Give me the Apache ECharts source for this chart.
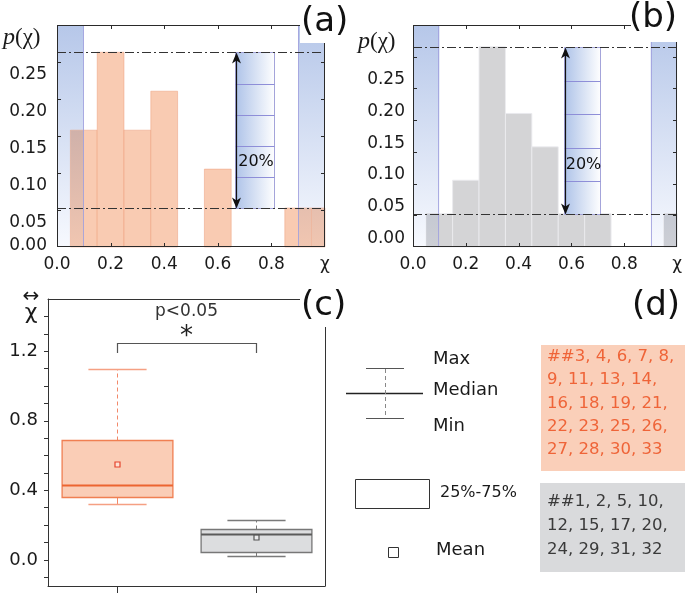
<!DOCTYPE html>
<html><head><meta charset="utf-8">
<script src="https://cdn.jsdelivr.net/npm/echarts@6/dist/echarts.min.js"></script>
<style>html,body{margin:0;padding:0;background:#fff}#c{width:685px;height:593px}</style>
</head><body><div id="c"></div>
<script>
// ---------------- data ----------------
const binCenters = [0.1, 0.2, 0.3, 0.4, 0.5, 0.6, 0.7, 0.8, 0.9, 1.0];
const countsA = [3, 5, 3, 4, 0, 2, 0, 0, 1, 1];   // panel (a), 19 samples
const countsB = [1, 2, 6, 4, 3, 1, 1, 0, 0, 1];   // panel (b), 19 samples
const histXTicks = [0, 0.2, 0.4, 0.6, 0.8, 1.0];
const histYTicksA = [0.05, 0.10, 0.15, 0.20, 0.25];
const histYTicksB = [0.00, 0.05, 0.10, 0.15, 0.20, 0.25];
const histYTickMarksA = [0, 0.05, 0.10, 0.15, 0.20, 0.25, 0.30];
const histYTickMarksB = [0, 0.05, 0.10, 0.15, 0.20, 0.25, 0.30, 0.35];
const boxGroups = [0, 1];
const boxA = [0.32, 0.36, 0.43, 0.69, 1.10, 0.55];     // min, q1, median, q3, max, mean
const boxB = [0.025, 0.045, 0.15, 0.18, 0.23, 0.13];
const boxYLabels = [0, 0.4, 0.8, 1.2];
const boxYTicks = [-0.1,0,0.1,0.2,0.3,0.4,0.5,0.6,0.7,0.8,0.9,1.0,1.1,1.2,1.3,1.4];
const groupAIds = [3,4,6,7,8,9,11,13,14,16,18,19,21,22,23,25,26,27,28,30,33];
const groupBIds = [1,2,5,10,12,15,17,20,24,29,31,32];
const sigText = 'p<0.05';
const starText = '*';
const legendTexts = ['Max', 'Median', 'Min', '25%-75%', 'Mean'];
const panelLabels = ['(a)', '(b)', '(c)', '(d)'];

// ---------------- layout / annotation config ----------------
const FONT = 'DejaVu Sans';
const FONTQ = '"DejaVu Sans"';
const GA = {left: 57, top: 25, width: 268, height: 222};
const GB = {left: 413, top: 25, width: 269, height: 222};
const GC = {left: 48, top: 299, width: 277, height: 287};
const binWidth = 0.1;
const bandRanges = [[0, 0.1], [0.9, 1.0]];
const bandTop = [182, 199, 233], bandBottom = [247, 249, 254];
const rulerA = {x: [0.665, 0.808], divisions: 5, zeroLabel: true};
const rulerB = {x: [0.57, 0.707], divisions: 5, zeroLabel: false};
const sig = {legY: 1.19, barY: 1.247, starY: 1.305, textY: 1.43};
const styleA = {rgb: [249, 203, 178], stroke: 'rgba(236,150,115,0.45)'};
const styleB = {rgb: [212, 212, 214], stroke: 'rgba(235,235,238,0.9)'};
const boxStyles = [
  {fill: '#FACDB6', border: '#F07F52', median: '#EC6530', whisker: '#F2896A', cap: '#F5A083', mean: '#E5432C'},
  {fill: '#DCDDDF', border: '#777', median: '#5A5A5A', whisker: '#7A7A7A', cap: '#7A7A7A', mean: '#555'}
];
const FRAME = '#2a2a2a';
const TOP = 1;   // overlay layer (zlevel) for frames, ticks and panel decorations

const N_A = countsA.reduce((a, b) => a + b, 0);
const N_B = countsB.reduce((a, b) => a + b, 0);
const probsA = countsA.map(c => c / N_A);
const probsB = countsB.map(c => c / N_B);

const rgb = c => 'rgb(' + c.map(Math.round).join(',') + ')';
const mult = (a, b) => a.map((v, i) => v * b[i] / 255);

function histRender(st) {
  return function (params, api) {
    const x = api.value(0), y = api.value(1);
    if (!y) return;
    const p0 = api.coord([x - binWidth / 2, y]);
    const p1 = api.coord([x + binWidth / 2, 0]);
    const cs = params.coordSys;
    const r = echarts.graphic.clipRectByRect(
      {x: p0[0], y: p0[1], width: p1[0] - p0[0], height: p1[1] - p0[1]},
      {x: cs.x, y: cs.y, width: cs.width, height: cs.height});
    if (!r) return;
    const ch = [{type: 'rect', shape: r, style: {fill: rgb(st.rgb), stroke: st.stroke, lineWidth: 1}}];
    bandRanges.forEach(bd => {
      const a = api.coord([bd[0], 0])[0], b = api.coord([bd[1], 0])[0];
      const x0 = Math.max(a, r.x), x1 = Math.min(b, r.x + r.width);
      if (x1 > x0) {
        ch.push({type: 'rect', shape: {x: x0, y: r.y, width: x1 - x0, height: r.height},
          style: {fill: new echarts.graphic.LinearGradient(0, cs.y, 0, cs.y + cs.height, [
            {offset: 0, color: rgb(mult(st.rgb, bandTop))}, {offset: 1, color: rgb(mult(st.rgb, bandBottom))}], true)}});
      }
    });
    return {type: 'group', children: ch};
  };
}

function bandRender(params, api) {
  const cs = params.coordSys;
  const a = api.coord([api.value(0), 0])[0], b = api.coord([api.value(1), 0])[0];
  return {type: 'rect', shape: {x: a, y: cs.y, width: b - a, height: cs.height},
     style: {fill: new echarts.graphic.LinearGradient(0, 0, 0, 1, [
       {offset: 0, color: rgb(bandTop)}, {offset: 1, color: rgb(bandBottom)}])}};
}
function bandEdgeRender(params, api) {
  const cs = params.coordSys;
  const a = Math.round(api.coord([api.value(0), 0])[0]), b = Math.round(api.coord([api.value(1), 0])[0]) - 1;
  const c = 'rgba(160,160,222,0.85)';
  return {type: 'group', children: [
    {type: 'rect', shape: {x: a, y: cs.y, width: 1, height: cs.height}, style: {fill: c}},
    {type: 'rect', shape: {x: b, y: cs.y, width: 1, height: cs.height}, style: {fill: c}}
  ]};
}

// frame + inward tick marks of a histogram panel, as thin filled rects
function frameRender(xt, yt) {
  return function (params, api) {
    const cs = params.coordSys;
    const L = Math.round(cs.x), T = Math.round(cs.y), R = Math.round(cs.x + cs.width), B = Math.round(cs.y + cs.height);
    const mk = (x, y, w, h) => ({type: 'rect', shape: {x, y, width: w, height: h}, style: {fill: FRAME}});
    const ch = [mk(L, T, R - L, 1), mk(L, B - 1, R - L, 1), mk(L, T, 1, B - T), mk(R - 1, T, 1, B - T)];
    xt.forEach(v => {
      const px = Math.min(R - 1, Math.round(api.coord([v, 0])[0]));
      ch.push(mk(px, B - 4, 1, 4));
      ch.push(mk(px, T, 1, 4));
    });
    yt.forEach(v => {
      const py = Math.min(B - 1, Math.round(api.coord([0, v])[1]));
      ch.push(mk(L, py, 4, 1));
      ch.push(mk(R - 4, py, 4, 1));
    });
    return {type: 'group', children: ch};
  };
}

function annotRender(probs, ruler) {
  const hi = Math.max(...probs);
  const lo = Math.min(...probs.filter(p => p > 0));
  return function (params, api) {
    const yHi = Math.round(api.coord([0, hi])[1]) + 0.5;
    const yLo = Math.round(api.coord([0, lo])[1]) + 0.5;
    const xL = api.coord([0, 0])[0], xR = api.coord([1, 0])[0];
    const rx0 = Math.round(api.coord([ruler.x[0], 0])[0]) + 0.5;
    const rx1 = Math.round(api.coord([ruler.x[1], 0])[0]) + 0.5;
    const n = ruler.divisions, step = (yLo - yHi) / n;
    const ch = [];
    ch.push({type: 'rect', shape: {x: rx0, y: yHi, width: rx1 - rx0, height: yLo - yHi},
      style: {fill: new echarts.graphic.LinearGradient(0, 0, 1, 0, [
        {offset: 0, color: '#ADC2E8'}, {offset: 1, color: '#FFFFFF'}]), stroke: '#A4A4DA', lineWidth: 1}});
    for (let i = 1; i < n; i++) {
      const yy = Math.round(yHi + i * step) + 0.5;
      ch.push({type: 'line', shape: {x1: rx0, y1: yy, x2: rx1, y2: yy}, style: {stroke: '#8E8ED8', lineWidth: 1}});
    }
    ch.push({type: 'text', x: (rx0 + rx1) / 2 + 1, y: yHi + (n - 1.5) * step,
      style: {text: Math.round(100 / n) + '%', font: '16px ' + FONTQ, fill: '#111', align: 'center', verticalAlign: 'middle', textAlign: 'center', textVerticalAlign: 'middle'}});
    [yHi, yLo].forEach(yy => ch.push({type: 'line', shape: {x1: xL, y1: yy, x2: xR, y2: yy},
      style: {stroke: '#333', lineWidth: 1, lineDash: [9, 3, 2, 3]}}));
    const ax = rx0 + 1;
    ch.push({type: 'line', shape: {x1: ax, y1: yHi + 6, x2: ax, y2: yLo - 6}, style: {stroke: '#111', lineWidth: 1.2}});
    ch.push({type: 'polygon', shape: {points: [[ax, yHi], [ax - 4.5, yHi + 11], [ax, yHi + 8], [ax + 4.5, yHi + 11]]}, style: {fill: '#111'}});
    ch.push({type: 'polygon', shape: {points: [[ax, yLo], [ax - 4.5, yLo - 11], [ax, yLo - 8], [ax + 4.5, yLo - 11]]}, style: {fill: '#111'}});
    if (ruler.zeroLabel) {
      const z = api.coord([0, 0]);
      ch.push({type: 'text', x: z[0] - 10, y: z[1] - 1,
        style: {text: (0).toFixed(2), font: '17px ' + FONTQ, fill: '#1a1a1a', align: 'right', verticalAlign: 'middle', textAlign: 'right', textVerticalAlign: 'middle'}});
    }
    return {type: 'group', children: ch};
  };
}

function boxRender(params, api) {
  const x = api.value(0);
  const mn = api.value(1), q1 = api.value(2), md = api.value(3), q3 = api.value(4), mx = api.value(5), mean = api.value(6);
  const band = api.size([1, 0])[0];
  const cx = Math.round(api.coord([x, 0])[0]) + 0.5;
  const Y = v => Math.round(api.coord([x, v])[1]) + 0.5;
  const hw = band * 0.40, cw = band * 0.21;
  const st = boxStyles[params.dataIndex];
  const ch = [
    {type: 'line', shape: {x1: cx, y1: Y(q3), x2: cx, y2: Y(mx)}, style: {stroke: st.whisker, lineWidth: 1, lineDash: [4, 3]}},
    {type: 'line', shape: {x1: cx, y1: Y(q1), x2: cx, y2: Y(mn)}, style: {stroke: st.whisker, lineWidth: 1}},
    {type: 'line', shape: {x1: cx - cw, y1: Y(mx), x2: cx + cw, y2: Y(mx)}, style: {stroke: st.cap, lineWidth: 1.3}},
    {type: 'line', shape: {x1: cx - cw, y1: Y(mn), x2: cx + cw, y2: Y(mn)}, style: {stroke: st.cap, lineWidth: 1.3}},
    {type: 'rect', shape: {x: cx - hw, y: Y(q3), width: 2 * hw, height: Y(q1) - Y(q3)}, style: {fill: st.fill, stroke: st.border, lineWidth: 1.3}},
    {type: 'line', shape: {x1: cx - hw, y1: Y(md), x2: cx + hw, y2: Y(md)}, style: {stroke: st.median, lineWidth: 2.2}},
    {type: 'rect', shape: {x: cx - 2.5, y: Y(mean) - 2.5, width: 5, height: 5}, style: {fill: 'rgba(255,255,255,0.4)', stroke: st.mean, lineWidth: 1.2}}
  ];
  return {type: 'group', children: ch};
}

function sigRender(params, api) {
  const a = api.coord([boxGroups[0], sig.barY]), b = api.coord([boxGroups[1], sig.barY]);
  const leg = api.coord([0, sig.legY])[1];
  const mid = api.coord([(boxGroups[0] + boxGroups[1]) / 2, sig.starY]);
  const pt = api.coord([(boxGroups[0] + boxGroups[1]) / 2, sig.textY]);
  const ya = Math.round(a[1]) + 0.5;
  return {type: 'group', children: [
    {type: 'polyline', shape: {points: [[Math.round(a[0]) + 0.5, leg], [Math.round(a[0]) + 0.5, ya], [Math.round(b[0]) + 0.5, ya], [Math.round(b[0]) + 0.5, leg]]},
     style: {stroke: '#555', lineWidth: 1.2, fill: null}},
    {type: 'text', x: mid[0], y: mid[1] + 4, style: {text: starText, font: '26px ' + FONTQ, fill: '#222', align: 'center', verticalAlign: 'middle', textAlign: 'center', textVerticalAlign: 'middle'}},
    {type: 'text', x: pt[0], y: pt[1], style: {text: sigText, font: '17px ' + FONTQ, fill: '#333', align: 'center', verticalAlign: 'middle', textAlign: 'center', textVerticalAlign: 'middle'}}
  ]};
}

// ---- axes helpers
const axLine = () => ({show: true, onZero: false, lineStyle: {color: '#333', width: 1}});
function histX(grid) {
  return {type: 'value', gridIndex: grid, position: 'bottom', min: 0, max: 1, interval: 0.2,
    axisLine: {show: false, onZero: false}, splitLine: {show: false}, axisTick: {show: false},
    axisLabel: {show: true, margin: 9, color: '#1a1a1a', fontSize: 17, fontFamily: FONT,
      formatter: v => (Math.abs(v - 1) < 1e-6 ? 'χ' : (histXTicks.some(t => Math.abs(t - v) < 1e-6) ? v.toFixed(1) : ''))}};
}
const labA = {show: true, margin: 10, color: '#1a1a1a', fontSize: 17, fontFamily: FONT,
  verticalAlign: 'top', lineHeight: 26,
  formatter: v => histYTicksA.some(t => Math.abs(t - v) < 1e-6) ? v.toFixed(2) : ''};
const labB = {show: true, margin: 8, color: '#1a1a1a', fontSize: 17, fontFamily: FONT,
  verticalAlign: 'bottom', lineHeight: 17,
  formatter: v => histYTicksB.some(t => Math.abs(t - v) < 1e-6) ? v.toFixed(2) : ''};
function histY(grid, max, label) {
  return {type: 'value', gridIndex: grid, position: 'left', min: 0, max: max, interval: 0.05,
    axisLine: {show: false, onZero: false}, splitLine: {show: false}, axisTick: {show: false}, axisLabel: label};
}

// ---- text for (d)
function idLines(ids, sizes) {
  const out = []; let k = 0;
  sizes.forEach((s, i) => {
    const part = ids.slice(k, k + s); k += s;
    let line = part.join(', ');
    if (k < ids.length) line += ',';
    if (i === 0) line = '##' + line;
    out.push(line);
  });
  return out.join('\n');
}
const txt = (x, y, text, size, color, align) => ({type: 'text', zlevel: TOP, z: 100, x, y,
  style: {text, font: size + 'px ' + FONTQ, fill: color || '#1a1a1a', textAlign: align || 'left', align: align || 'left', textVerticalAlign: 'middle', verticalAlign: 'middle'}});
const ln = (x1, y1, x2, y2, color, w, dash) => {
  const st = {stroke: color, lineWidth: w || 1};
  if (dash) st.lineDash = dash;
  return {type: 'line', zlevel: TOP, z: 100, shape: {x1, y1, x2, y2}, style: st};
};
const box = (x, y, w, h, style, z) => ({type: 'rect', zlevel: TOP, z: z, shape: {x, y, width: w, height: h}, style});

const graphics = [
  box(300, 0, 56, 43, {fill: '#fff'}, 90),
  box(631, 0, 54, 42, {fill: '#fff'}, 90),
  box(300, 284, 56, 43, {fill: '#fff'}, 90),
  txt(301, 22, panelLabels[0], 34, '#111'),
  txt(629, 18, panelLabels[1], 34, '#111'),
  txt(301, 306, panelLabels[2], 34, '#111'),
  txt(632, 306, panelLabels[3], 34, '#111'),
  {type: 'text', zlevel: TOP, z: 100, x: 3, y: 38, style: {text: '{p|p}{n|(χ)}', rich: {p: {font: 'italic 24px "Liberation Serif"', fill: '#1a1a1a'}, n: {font: '23px "Liberation Serif"', fill: '#1a1a1a'}}, textVerticalAlign: 'middle', verticalAlign: 'middle'}},
  {type: 'text', zlevel: TOP, z: 100, x: 358, y: 42, style: {text: '{p|p}{n|(χ)}', rich: {p: {font: 'italic 24px "Liberation Serif"', fill: '#1a1a1a'}, n: {font: '23px "Liberation Serif"', fill: '#1a1a1a'}}, textVerticalAlign: 'middle', verticalAlign: 'middle'}},
  txt(31, 297, '↔', 20, '#1a1a1a', 'center'),
  txt(31, 313, 'χ', 22, '#1a1a1a', 'center'),
  ln(366, 368.5, 404, 368.5, '#555', 1),
  ln(346, 393.5, 423, 393.5, '#222', 1.5),
  ln(366, 418.5, 404, 418.5, '#555', 1),
  ln(385.5, 369, 385.5, 418, '#888', 1, [4, 3]),
  txt(433, 359, legendTexts[0], 18),
  txt(433, 390, legendTexts[1], 18),
  txt(433, 426, legendTexts[2], 18),
  box(355.5, 479.5, 74, 29, {fill: '#fff', stroke: '#333', lineWidth: 1}, 100),
  txt(440, 493, legendTexts[3], 16),
  box(388.5, 547.5, 10, 10, {fill: '#fff', stroke: '#333', lineWidth: 1}, 100),
  txt(436, 550, legendTexts[4], 18),
  box(541, 345, 150, 126, {fill: '#FACFB9'}, 95),
  {type: 'text', zlevel: TOP, z: 100, x: 547, y: 345, style: {text: idLines(groupAIds, [5, 4, 4, 4, 4]), font: '16.5px ' + FONTQ, fill: '#EF6438', lineHeight: 23.3, textVerticalAlign: 'top', verticalAlign: 'top'}},
  box(540, 483, 150, 89, {fill: '#D9DADC'}, 95),
  {type: 'text', zlevel: TOP, z: 100, x: 547, y: 489.7, style: {text: idLines(groupBIds, [4, 4, 4]), font: '16.5px ' + FONTQ, fill: '#3a3a3a', lineHeight: 24, textVerticalAlign: 'top', verticalAlign: 'top'}}
];

const option = {
  animation: false,
  textStyle: {fontFamily: FONT},
  grid: [Object.assign({}, GA), Object.assign({}, GB), Object.assign({}, GC)],
  xAxis: [
    histX(0),
    histX(1),
    {type: 'value', gridIndex: 2, position: 'bottom', min: -0.5, max: 1.5, z: 10,
     axisLine: axLine(), splitLine: {show: false}, axisLabel: {show: false},
     axisTick: {show: true, inside: false, length: 7, customValues: boxGroups, lineStyle: {color: '#333'}}},
    {type: 'value', gridIndex: 2, position: 'top', min: -0.5, max: 1.5, z: 10,
     axisLine: axLine(), splitLine: {show: false}, axisLabel: {show: false}, axisTick: {show: false}}
  ],
  yAxis: [
    histY(0, 0.30, labA),
    histY(1, 0.35, labB),
    {type: 'value', gridIndex: 2, position: 'left', min: -0.15, max: 1.5, z: 10,
     axisLine: axLine(), splitLine: {show: false},
     axisTick: {show: true, inside: false, length: 4, customValues: boxYTicks, lineStyle: {color: '#333'}},
     axisLabel: {show: true, margin: 10, color: '#1a1a1a', fontSize: 18, fontFamily: FONT, customValues: boxYLabels, formatter: v => v.toFixed(1)}},
    {type: 'value', gridIndex: 2, position: 'right', min: -0.15, max: 1.5, z: 10,
     axisLine: axLine(), splitLine: {show: false}, axisLabel: {show: false}, axisTick: {show: false}}
  ],
  series: [
    {type: 'custom', xAxisIndex: 0, yAxisIndex: 0, z: 1, renderItem: bandRender, data: bandRanges},
    {type: 'custom', xAxisIndex: 0, yAxisIndex: 0, z: 2, renderItem: histRender(styleA), data: binCenters.map((c, i) => [c, probsA[i]])},
    {type: 'custom', xAxisIndex: 0, yAxisIndex: 0, z: 3, renderItem: bandEdgeRender, data: bandRanges},
    {type: 'custom', xAxisIndex: 0, yAxisIndex: 0, z: 4, renderItem: annotRender(probsA, rulerA), data: [[0.5, 0.1]]},
    {type: 'custom', xAxisIndex: 0, yAxisIndex: 0, zlevel: TOP, z: 5, renderItem: frameRender(histXTicks, histYTickMarksA), data: [[0.5, 0.15]]},
    {type: 'custom', xAxisIndex: 1, yAxisIndex: 1, z: 1, renderItem: bandRender, data: bandRanges},
    {type: 'custom', xAxisIndex: 1, yAxisIndex: 1, z: 2, renderItem: histRender(styleB), data: binCenters.map((c, i) => [c, probsB[i]])},
    {type: 'custom', xAxisIndex: 1, yAxisIndex: 1, z: 3, renderItem: bandEdgeRender, data: bandRanges},
    {type: 'custom', xAxisIndex: 1, yAxisIndex: 1, z: 4, renderItem: annotRender(probsB, rulerB), data: [[0.5, 0.1]]},
    {type: 'custom', xAxisIndex: 1, yAxisIndex: 1, zlevel: TOP, z: 5, renderItem: frameRender(histXTicks, histYTickMarksB), data: [[0.5, 0.15]]},
    {type: 'custom', xAxisIndex: 2, yAxisIndex: 2, z: 2, renderItem: boxRender,
     encode: {x: 0, y: [1, 2, 3, 4, 5]},
     data: [[boxGroups[0], ...boxA], [boxGroups[1], ...boxB]]},
    {type: 'custom', xAxisIndex: 2, yAxisIndex: 2, z: 3, renderItem: sigRender, data: [[0.5, sig.barY]]}
  ],
  graphic: {zlevel: TOP, elements: graphics}
};
const chart = echarts.init(document.getElementById('c'), null, {renderer: 'canvas'});
chart.setOption(option);
</script></body></html>
